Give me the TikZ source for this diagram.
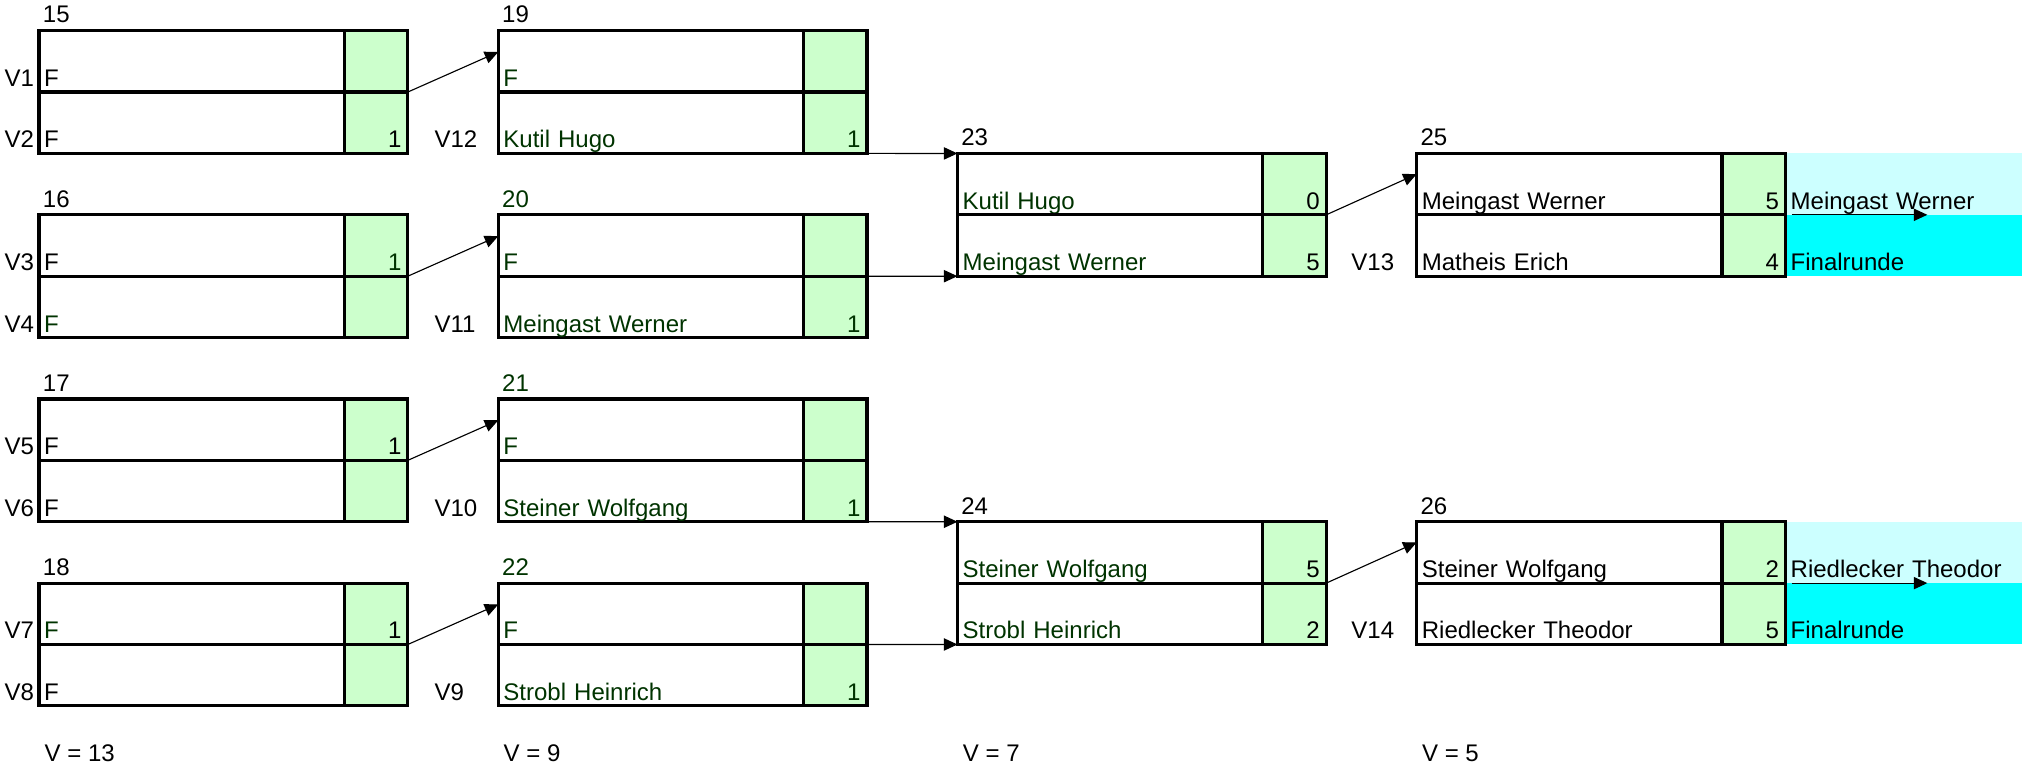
\documentclass[tikz,border=0pt]{standalone}
\usepackage{fontspec}
\setmainfont{Liberation Sans}
\usepackage{xcolor}
\usetikzlibrary{arrows.meta}
\definecolor{scoregreen}{HTML}{CCFFCC}
\definecolor{lightcyan}{HTML}{CCFFFF}
\definecolor{brightcyan}{HTML}{00FFFF}
\definecolor{dkgreen}{HTML}{003300}

\begin{document}
\begin{tikzpicture}[x=0.02cm, y=-0.02cm,
  font=\fontsize{10.6}{12}\selectfont,
  namecell/.style={draw, line width=1.4pt, outer sep=0pt, inner xsep=0.08cm, inner ysep=0pt,
    text width=4.576cm, text height=0.866cm, text depth=0.086cm, align=left, anchor=north west},
  scorecell/.style={namecell, fill=scoregreen, inner xsep=0.1cm, text width=0.784cm, align=right},
  finalcell/.style={namecell, draw=none, text width=3.524cm},
  plain/.style={inner sep=0pt, outer sep=0pt, anchor=base west},
  gtxt/.style={text=dkgreen},
  adv/.style={line width=0.5pt, -{Triangle[length=0.21cm, width=0.19cm]}}]
  \useasboundingbox (0,0) rectangle (1568,594);

  % Final cells (cyan) - drawn first so the borders lie on top
  \node[finalcell, fill=lightcyan] (f25a) at (1384.6,119.0) {Meingast Werner};
  \node[finalcell, fill=brightcyan] (f25b) at (f25a.south west) {Finalrunde};
  \node[finalcell, fill=lightcyan] (f26a) at (1384.6,404.6) {Riedlecker Theodor};
  \node[finalcell, fill=brightcyan] (f26b) at (f26a.south west) {Finalrunde};

  % Round 1 - match 15
  \node[namecell] (m15a) at (30.3,23.8) {F};
  \node[scorecell] (m15as) at (m15a.north east) {};
  \node[namecell] (m15b) at (m15a.south west) {F};
  \node[scorecell] (m15bs) at (m15b.north east) {1};
  \node[plain] (n15) at ([xshift=0.06cm, yshift=0.12cm]m15a.north west) {15};
  % Round 1 - match 16
  \node[namecell] (m16a) at (30.3,166.6) {F};
  \node[scorecell, gtxt] (m16as) at (m16a.north east) {1};
  \node[namecell, gtxt] (m16b) at (m16a.south west) {F};
  \node[scorecell] (m16bs) at (m16b.north east) {};
  \node[plain] (n16) at ([xshift=0.06cm, yshift=0.12cm]m16a.north west) {16};
  % Round 1 - match 17
  \node[namecell] (m17a) at (30.3,309.4) {F};
  \node[scorecell] (m17as) at (m17a.north east) {1};
  \node[namecell] (m17b) at (m17a.south west) {F};
  \node[scorecell] (m17bs) at (m17b.north east) {};
  \node[plain] (n17) at ([xshift=0.06cm, yshift=0.12cm]m17a.north west) {17};
  % Round 1 - match 18
  \node[namecell, gtxt] (m18a) at (30.3,452.2) {F};
  \node[scorecell] (m18as) at (m18a.north east) {1};
  \node[namecell] (m18b) at (m18a.south west) {F};
  \node[scorecell] (m18bs) at (m18b.north east) {};
  \node[plain] (n18) at ([xshift=0.06cm, yshift=0.12cm]m18a.north west) {18};

  % Round 2 - match 19
  \node[namecell, gtxt] (m19a) at (386.4,23.8) {F};
  \node[scorecell] (m19as) at (m19a.north east) {};
  \node[namecell, gtxt] (m19b) at (m19a.south west) {Kutil Hugo};
  \node[scorecell, gtxt] (m19bs) at (m19b.north east) {1};
  \node[plain] (n19) at ([xshift=0.06cm, yshift=0.12cm]m19a.north west) {19};
  % Round 2 - match 20
  \node[namecell, gtxt] (m20a) at (386.4,166.6) {F};
  \node[scorecell] (m20as) at (m20a.north east) {};
  \node[namecell, gtxt] (m20b) at (m20a.south west) {Meingast Werner};
  \node[scorecell, gtxt] (m20bs) at (m20b.north east) {1};
  \node[plain, gtxt] (n20) at ([xshift=0.06cm, yshift=0.12cm]m20a.north west) {20};
  % Round 2 - match 21
  \node[namecell, gtxt] (m21a) at (386.4,309.4) {F};
  \node[scorecell] (m21as) at (m21a.north east) {};
  \node[namecell, gtxt] (m21b) at (m21a.south west) {Steiner Wolfgang};
  \node[scorecell, gtxt] (m21bs) at (m21b.north east) {1};
  \node[plain, gtxt] (n21) at ([xshift=0.06cm, yshift=0.12cm]m21a.north west) {21};
  % Round 2 - match 22
  \node[namecell, gtxt] (m22a) at (386.4,452.2) {F};
  \node[scorecell] (m22as) at (m22a.north east) {};
  \node[namecell, gtxt] (m22b) at (m22a.south west) {Strobl Heinrich};
  \node[scorecell, gtxt] (m22bs) at (m22b.north east) {1};
  \node[plain, gtxt] (n22) at ([xshift=0.06cm, yshift=0.12cm]m22a.north west) {22};

  % Round 3 - matches 23 and 24
  \node[namecell, gtxt] (m23a) at (742.5,119.0) {Kutil Hugo};
  \node[scorecell] (m23as) at (m23a.north east) {0};
  \node[namecell, gtxt] (m23b) at (m23a.south west) {Meingast Werner};
  \node[scorecell] (m23bs) at (m23b.north east) {5};
  \node[plain] (n23) at ([xshift=0.06cm, yshift=0.12cm]m23a.north west) {23};
  \node[namecell, gtxt] (m24a) at (742.5,404.6) {Steiner Wolfgang};
  \node[scorecell] (m24as) at (m24a.north east) {5};
  \node[namecell, gtxt] (m24b) at (m24a.south west) {Strobl Heinrich};
  \node[scorecell] (m24bs) at (m24b.north east) {2};
  \node[plain] (n24) at ([xshift=0.06cm, yshift=0.12cm]m24a.north west) {24};

  % Round 4 - matches 25 and 26
  \node[namecell] (m25a) at (1098.6,119.0) {Meingast Werner};
  \node[scorecell] (m25as) at (m25a.north east) {5};
  \node[namecell] (m25b) at (m25a.south west) {Matheis Erich};
  \node[scorecell] (m25bs) at (m25b.north east) {4};
  \node[plain] (n25) at ([xshift=0.06cm, yshift=0.12cm]m25a.north west) {25};
  \node[namecell] (m26a) at (1098.6,404.6) {Steiner Wolfgang};
  \node[scorecell] (m26as) at (m26a.north east) {2};
  \node[namecell] (m26b) at (m26a.south west) {Riedlecker Theodor};
  \node[scorecell] (m26bs) at (m26b.north east) {5};
  \node[plain] (n26) at ([xshift=0.06cm, yshift=0.12cm]m26a.north west) {26};

  % V labels
  \node[plain] (v1) at (3.6,67.1) {V1};
  \node[plain] (v2) at (3.6,114.7) {V2};
  \node[plain] (v3) at (3.6,209.9) {V3};
  \node[plain] (v4) at (3.6,257.5) {V4};
  \node[plain] (v5) at (3.6,352.7) {V5};
  \node[plain] (v6) at (3.6,400.3) {V6};
  \node[plain] (v7) at (3.6,495.5) {V7};
  \node[plain] (v8) at (3.6,543.1) {V8};
  \node[plain] (v12) at (337,114.7) {V12};
  \node[plain] (v11) at (337,257.5) {V11};
  \node[plain] (v10) at (337,400.3) {V10};
  \node[plain] (v9) at (337,543.1) {V9};
  \node[plain] (v13) at (1048,209.9) {V13};
  \node[plain] (v14) at (1048,495.5) {V14};

  % Column totals
  \node[plain] (t1) at (34.7,590.7) {V = 13};
  \node[plain] (t2) at (390.6,590.7) {V = 9};
  \node[plain] (t3) at (746.7,590.7) {V = 7};
  \node[plain] (t4) at (1102.8,590.7) {V = 5};

  % Round 1 -> round 2
  \draw[adv] (m15as.south east) -- ([yshift=-0.33cm]m19a.north west);
  \draw[adv] (m16as.south east) -- ([yshift=-0.33cm]m20a.north west);
  \draw[adv] (m17as.south east) -- ([yshift=-0.33cm]m21a.north west);
  \draw[adv] (m18as.south east) -- ([yshift=-0.33cm]m22a.north west);
  % Round 2 -> round 3
  \draw[adv] (m19bs.south east) -- (m23a.north west);
  \draw[adv] ([xshift=-0.26cm]m20as.south east) -- (m23b.south west);
  \draw[adv] ([xshift=-0.26cm]m21bs.south east) -- (m24a.north west);
  \draw[adv] (m22as.south east) -- (m24b.south west);
  % Round 3 -> round 4
  \draw[adv] (m23as.south east) -- ([yshift=-0.32cm]m25a.north west);
  \draw[adv] (m24as.south east) -- ([yshift=-0.32cm]m26a.north west);
  % Into the final round
  \coordinate (e25) at ([xshift=2.2cm]f25a.south west);
  \coordinate (e26) at ([xshift=2.2cm]f26a.south west);
  \draw[adv] ([xshift=0.1cm]f25a.south west) -- (e25);
  \draw[adv] ([xshift=0.1cm]f26a.south west) -- (e26);

\end{tikzpicture}
\end{document}
